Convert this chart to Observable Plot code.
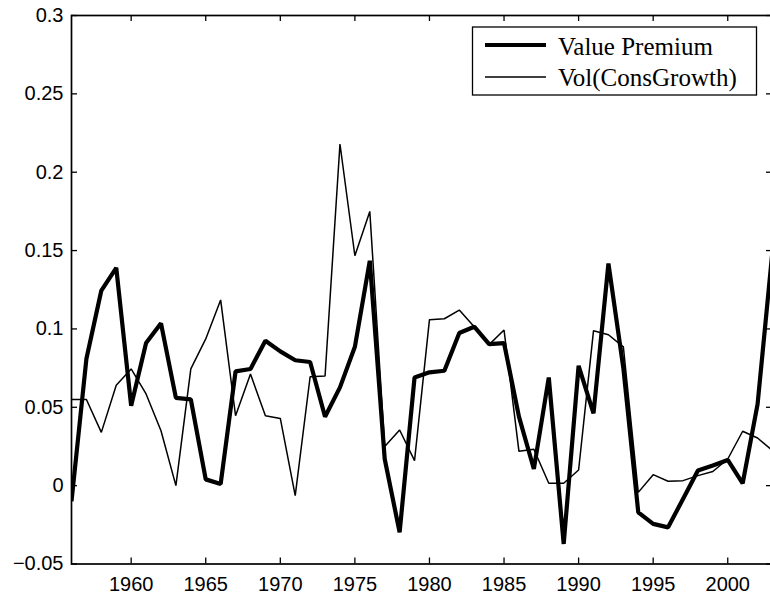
<!DOCTYPE html>
<html>
<head>
<meta charset="utf-8">
<script src="https://cdn.jsdelivr.net/npm/d3@7"></script>
<script src="https://cdn.jsdelivr.net/npm/@observablehq/plot@0.6"></script>
<style>
  html, body { margin: 0; padding: 0; background: #fff; overflow: hidden; }
  #wrap { position: relative; width: 770px; height: 596px; }
</style>
</head>
<body>
<div id="wrap"></div>
<script>
const years = d3.range(1956, 2004);
const valuePremium = [
  -0.010, 0.081, 0.1245, 0.139, 0.051, 0.091, 0.1036, 0.056, 0.055, 0.004,
  0.001, 0.0729, 0.0744, 0.0925, 0.0857, 0.080, 0.0789, 0.044, 0.0627, 0.0886,
  0.1435, 0.017, -0.0298, 0.069, 0.0723, 0.0733, 0.0974, 0.1014, 0.0903, 0.091,
  0.044, 0.0106, 0.069, -0.0372, 0.0765, 0.0461, 0.1418, 0.075, -0.017, -0.0244,
  -0.0266, -0.0085, 0.0096, 0.0128, 0.0164, 0.0015, 0.052, 0.150
];
const volConsGrowth = [
  0.055, 0.055, 0.034, 0.064, 0.0745, 0.0585, 0.035, 0.000, 0.0745, 0.0936,
  0.1185, 0.0446, 0.0712, 0.0446, 0.0429, -0.0064, 0.0695, 0.070, 0.218, 0.1467,
  0.175, 0.0249, 0.0355, 0.016, 0.1059, 0.1065, 0.112, 0.1014, 0.090, 0.0993,
  0.0219, 0.0232, 0.0015, 0.0015, 0.010, 0.0989, 0.0963, 0.0886, -0.0043, 0.007,
  0.0028, 0.0032, 0.0064, 0.009, 0.017, 0.0347, 0.0304, 0.0223
];
const seriesNames = ["Value Premium", "Vol(ConsGrowth)"];
const xTicks = [1960, 1965, 1970, 1975, 1980, 1985, 1990, 1995, 2000];
const xTickLabels = ["1960", "1965", "1970", "1975", "1980", "1985", "1990", "1995", "2000"];
const yTicks = [-0.05, 0, 0.05, 0.1, 0.15, 0.2, 0.25, 0.3];
const yTickLabels = ["\u22120.05", "0", "0.05", "0.1", "0.15", "0.2", "0.25", "0.3"];

const vp = years.map((y, i) => ({year: y, value: valuePremium[i]}));
const vol = years.map((y, i) => ({year: y, value: volConsGrowth[i]}));

const xFmt = d => xTickLabels[xTicks.indexOf(d)];
const yFmt = d => yTickLabels[yTicks.indexOf(d)];
const font = "'Liberation Sans', Arial, Helvetica, sans-serif";

const W = 770, H = 596, mL = 71, mR = -2, mT = 15, mB = 32.5;
const frameW = W - mL - mR, frameH = H - mT - mB, tick = 6;

const chart = Plot.plot({
  width: W,
  height: H,
  marginLeft: mL,
  marginRight: mR,
  marginTop: mT,
  marginBottom: mB,
  style: {fontFamily: font, fontSize: "20px", color: "black", background: "white"},
  x: {domain: [1956, 2003]},
  y: {domain: [-0.05, 0.3]},
  marks: [
    // inward ticks
    Plot.tickX(xTicks, {x: d => d, stroke: "black", strokeWidth: 1.3, insetTop: frameH - tick}),
    Plot.tickX(xTicks, {x: d => d, stroke: "black", strokeWidth: 1.3, insetBottom: frameH - tick}),
    Plot.tickY(yTicks, {y: d => d, stroke: "black", strokeWidth: 1.3, insetRight: frameW - tick}),
    Plot.tickY(yTicks, {y: d => d, stroke: "black", strokeWidth: 1.3, insetLeft: frameW - tick}),
    Plot.lineY(vp, {x: "year", y: "value", stroke: "black", strokeWidth: 4.2, strokeLinejoin: "miter", strokeLinecap: "butt", clip: true}),
    Plot.lineY(vol, {x: "year", y: "value", stroke: "black", strokeWidth: 1.5, strokeLinejoin: "miter", strokeLinecap: "butt", clip: true}),
    Plot.frame({stroke: "black", strokeWidth: 1.7}),
    // labels
    Plot.axisX(xTicks, {anchor: "bottom", tickSize: 0, tickPadding: 13, tickFormat: xFmt, fill: "black", label: null}),
    Plot.axisY(yTicks, {anchor: "left", tickSize: 0, tickPadding: 8, tickFormat: yFmt, fill: "black", label: null})
  ]
});

const wrap = document.getElementById("wrap");
wrap.appendChild(chart);

// legend box inside the plot area
const leg = d3.create("svg")
  .attr("width", 770)
  .attr("height", 120)
  .style("position", "absolute").style("left", "0px").style("top", "0px");
leg.append("rect")
  .attr("x", 472.5).attr("y", 27).attr("width", 284).attr("height", 68)
  .attr("fill", "white").attr("stroke", "black").attr("stroke-width", 1.3);
const legRows = [
  {name: seriesNames[0], w: 4.2, y: 45, base: 55},
  {name: seriesNames[1], w: 1.5, y: 77, base: 86}
];
legRows.forEach(r => {
  leg.append("line").attr("x1", 485).attr("x2", 546).attr("y1", r.y).attr("y2", r.y)
    .attr("stroke", "black").attr("stroke-width", r.w);
  leg.append("text").attr("x", 558).attr("y", r.base).text(r.name)
    .attr("font-family", "'Liberation Serif', 'Times New Roman', serif")
    .attr("font-size", 25).attr("fill", "black");
});
wrap.appendChild(leg.node());
</script>
</body>
</html>
